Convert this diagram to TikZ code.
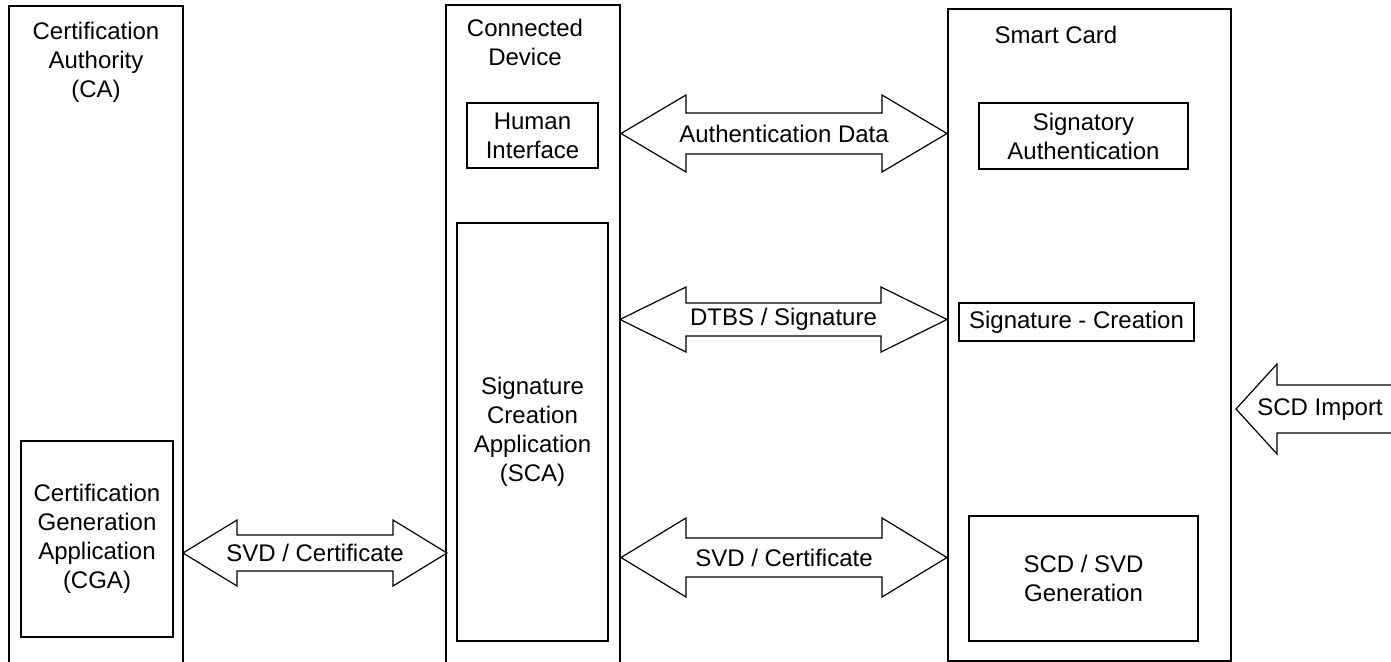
\documentclass[tikz,border=0pt]{standalone}
\usepackage{fontspec}
\setmainfont{Liberation Sans}
\begin{document}
\begin{tikzpicture}[x=0.5pt,y=-0.5pt,
  line/.style={draw=black,line width=0.6pt},
  box/.style={draw=black,line width=0.6pt,inner sep=0pt,outer sep=0pt,align=center},
  lbl/.style={inner sep=0pt,align=center},
  every node/.style={font=\fontsize{12}{14.5}\selectfont}]
\useasboundingbox (0,0) rectangle (1391,662);
\newcommand{\dblarrow}[8]{%
  \draw[line,fill=white] (#2,#4) -- ({#2+#5},{#4-#6}) -- ({#2+#5},{#4-#7}) -- ({#3-#5},{#4-#7})
    -- ({#3-#5},{#4-#6}) -- (#3,#4) -- ({#3-#5},{#4+#6}) -- ({#3-#5},{#4+#7})
    -- ({#2+#5},{#4+#7}) -- ({#2+#5},{#4+#6}) -- cycle;
  \node[lbl] (#1) at ({(#2+#3)/2},#4) {#8};}
% columns
\draw[line] (9,662) -- (9,6) -- (183,6) -- (183,662);
\draw[line] (446,662) -- (446,5) -- (620,5) -- (620,662);
\draw[line] (948,9) rectangle (1231,661);
\node[lbl] (ca) at (96,62) {Certification\\Authority\\(CA)};
\node[lbl] (cd) at (525,42) {Connected\\Device};
\node[lbl] (sc) at (1056,35) {Smart Card};
% inner boxes
\node[box,minimum width=65.5pt,minimum height=32.5pt] (hi) at (532.5,135.5) {Human\\Interface};
\node[box,minimum width=75.5pt,minimum height=209pt] (sca) at (532.5,432) {Signature\\Creation\\Application\\(SCA)};
\node[box,minimum width=76pt,minimum height=98pt] (cga) at (97,539) {Certification\\Generation\\Application\\(CGA)};
\node[box,minimum width=104.5pt,minimum height=33pt] (sa) at (1083.5,136) {Signatory\\Authentication};
\node[box,minimum width=117.5pt,minimum height=19pt] (scr) at (1076.5,322) {Signature - Creation};
\node[box,minimum width=114.5pt,minimum height=62.5pt] (gen) at (1083.5,578.5) {SCD / SVD\\Generation};
% block arrows
\dblarrow{auth}{621}{947}{133.5}{65}{38.5}{20.5}{Authentication Data}
\dblarrow{dtbs}{620}{947}{319.5}{66}{32.5}{16.5}{DTBS / Signature}
\dblarrow{svdr}{621}{947}{557.5}{65}{39.5}{19.5}{SVD / Certificate}
\dblarrow{svdl}{183}{447}{553}{54}{33}{18}{SVD / Certificate}
% SCD import
\draw[line,fill=white] (1236,409) -- (1277,364) -- (1277,385) -- (1400,385) -- (1400,433) -- (1277,433) -- (1277,454) -- cycle;
\node[lbl] (imp) at (1320,410) {SCD Import};
\end{tikzpicture}
\end{document}
